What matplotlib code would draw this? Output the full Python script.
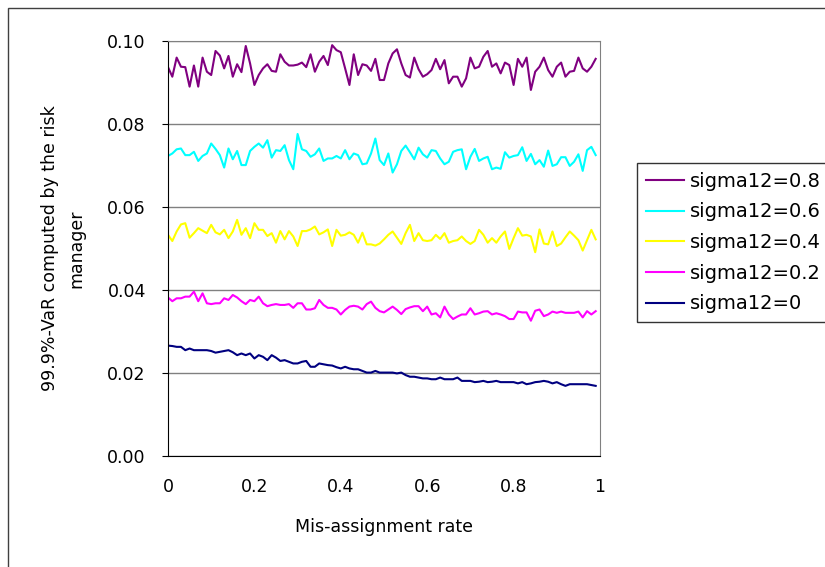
import matplotlib.pyplot as plt
import matplotlib.patches as patches
import numpy as np

rate = np.arange(100) / 100.0

var_08 = [0.0937, 0.0914, 0.0960, 0.0938, 0.0937, 0.0890, 0.0941, 0.0890, 0.0960, 0.0926,
          0.0918, 0.0976, 0.0965, 0.0934, 0.0964, 0.0914, 0.0944, 0.0925, 0.0988, 0.0946,
          0.0894, 0.0918, 0.0934, 0.0944, 0.0928, 0.0926, 0.0968, 0.0950, 0.0941, 0.0941,
          0.0943, 0.0948, 0.0937, 0.0968, 0.0926, 0.0950, 0.0964, 0.0942, 0.0990, 0.0978,
          0.0973, 0.0934, 0.0894, 0.0968, 0.0918, 0.0944, 0.0941, 0.0928, 0.0957, 0.0906,
          0.0906, 0.0946, 0.0970, 0.0980, 0.0946, 0.0918, 0.0912, 0.0960, 0.0932, 0.0914,
          0.0920, 0.0930, 0.0957, 0.0932, 0.0954, 0.0898, 0.0914, 0.0914, 0.0890, 0.0910,
          0.0960, 0.0934, 0.0938, 0.0962, 0.0976, 0.0938, 0.0946, 0.0922, 0.0948, 0.0942,
          0.0894, 0.0957, 0.0938, 0.0960, 0.0882, 0.0926, 0.0938, 0.0960, 0.0930, 0.0914,
          0.0938, 0.0948, 0.0914, 0.0926, 0.0928, 0.0960, 0.0934, 0.0926, 0.0938, 0.0957]

var_06 = [0.0723, 0.0729, 0.0739, 0.0741, 0.0725, 0.0725, 0.0733, 0.0711, 0.0723, 0.0729,
          0.0753, 0.0740, 0.0725, 0.0695, 0.0741, 0.0715, 0.0735, 0.0701, 0.0701, 0.0735,
          0.0745, 0.0753, 0.0743, 0.0761, 0.0719, 0.0737, 0.0735, 0.0749, 0.0713, 0.0691,
          0.0776, 0.0739, 0.0735, 0.0721, 0.0727, 0.0741, 0.0711, 0.0717, 0.0717, 0.0723,
          0.0717, 0.0737, 0.0715, 0.0729, 0.0725, 0.0703, 0.0705, 0.0729, 0.0765, 0.0713,
          0.0701, 0.0729, 0.0683, 0.0703, 0.0735, 0.0748, 0.0732, 0.0715, 0.0743, 0.0727,
          0.0719, 0.0737, 0.0735, 0.0717, 0.0703, 0.0709, 0.0733, 0.0737, 0.0739, 0.0691,
          0.0721, 0.0740, 0.0711, 0.0717, 0.0721, 0.0691, 0.0695, 0.0692, 0.0732, 0.0719,
          0.0723, 0.0725, 0.0744, 0.0711, 0.0728, 0.0703, 0.0713, 0.0697, 0.0736, 0.0699,
          0.0703, 0.0720, 0.0720, 0.0699, 0.0709, 0.0727, 0.0687, 0.0737, 0.0745, 0.0725]

var_04 = [0.0533, 0.0518, 0.0541, 0.0558, 0.0561, 0.0526, 0.0537, 0.0549, 0.0543, 0.0537,
          0.0557, 0.0539, 0.0534, 0.0545, 0.0525, 0.0541, 0.0569, 0.0533, 0.0549, 0.0525,
          0.0561, 0.0545, 0.0545, 0.0530, 0.0537, 0.0514, 0.0542, 0.0522, 0.0542, 0.0529,
          0.0506, 0.0542, 0.0542, 0.0546, 0.0553, 0.0534, 0.0539, 0.0546, 0.0506, 0.0545,
          0.0531, 0.0533, 0.0539, 0.0533, 0.0514, 0.0538, 0.0510, 0.0510, 0.0507, 0.0512,
          0.0522, 0.0533, 0.0541, 0.0526, 0.0511, 0.0537, 0.0557, 0.0518, 0.0537, 0.0520,
          0.0518, 0.0520, 0.0533, 0.0523, 0.0537, 0.0514, 0.0518, 0.0520, 0.0529, 0.0518,
          0.0511, 0.0518, 0.0545, 0.0533, 0.0514, 0.0525, 0.0514, 0.0529, 0.0541, 0.0499,
          0.0525, 0.0549, 0.0531, 0.0533, 0.0529, 0.0491, 0.0546, 0.0512, 0.0510, 0.0541,
          0.0506, 0.0512, 0.0527, 0.0541, 0.0531, 0.0520, 0.0495, 0.0520, 0.0545, 0.0522]

var_02 = [0.0382, 0.0373, 0.0380, 0.0380, 0.0384, 0.0384, 0.0396, 0.0373, 0.0392, 0.0368,
          0.0366, 0.0368, 0.0368, 0.0380, 0.0376, 0.0388, 0.0382, 0.0373, 0.0366, 0.0376,
          0.0373, 0.0384, 0.0368, 0.0361, 0.0364, 0.0366, 0.0364, 0.0364, 0.0366, 0.0357,
          0.0368, 0.0368, 0.0353, 0.0353, 0.0356, 0.0376, 0.0364, 0.0357, 0.0357, 0.0353,
          0.0341, 0.0352, 0.0360, 0.0362, 0.0360, 0.0353, 0.0366, 0.0372, 0.0357, 0.0349,
          0.0346, 0.0353, 0.0360, 0.0352, 0.0342, 0.0354, 0.0358, 0.0361, 0.0361, 0.0349,
          0.0360, 0.0341, 0.0344, 0.0334, 0.0360, 0.0341, 0.0330, 0.0336, 0.0341, 0.0341,
          0.0356, 0.0341, 0.0344, 0.0348, 0.0349, 0.0341, 0.0344, 0.0341, 0.0337, 0.0330,
          0.0330, 0.0348, 0.0346, 0.0346, 0.0326, 0.0350, 0.0353, 0.0337, 0.0341, 0.0348,
          0.0345, 0.0348, 0.0345, 0.0345, 0.0345, 0.0348, 0.0334, 0.0349, 0.0341, 0.0349]

var_00 = [0.0266, 0.0265, 0.0263, 0.0263, 0.0255, 0.0259, 0.0255, 0.0255, 0.0255, 0.0255,
          0.0253, 0.0249, 0.0251, 0.0253, 0.0255, 0.0250, 0.0243, 0.0247, 0.0243, 0.0247,
          0.0235, 0.0243, 0.0239, 0.0231, 0.0243, 0.0237, 0.0229, 0.0231, 0.0227, 0.0223,
          0.0223, 0.0227, 0.0229, 0.0215, 0.0215, 0.0223, 0.0221, 0.0219, 0.0218, 0.0214,
          0.0211, 0.0215, 0.0211, 0.0209, 0.0209, 0.0205, 0.0201, 0.0201, 0.0205, 0.0201,
          0.0201, 0.0201, 0.0201, 0.0199, 0.0201, 0.0195, 0.0191, 0.0191, 0.0189, 0.0187,
          0.0187, 0.0185, 0.0185, 0.0189, 0.0185, 0.0185, 0.0185, 0.0189, 0.0181, 0.0181,
          0.0181, 0.0178, 0.0179, 0.0181, 0.0178, 0.0179, 0.0181, 0.0178, 0.0178, 0.0178,
          0.0178, 0.0175, 0.0178, 0.0173, 0.0175, 0.0178, 0.0179, 0.0181, 0.0179, 0.0175,
          0.0178, 0.0173, 0.0169, 0.0173, 0.0173, 0.0173, 0.0173, 0.0173, 0.0171, 0.0169]

series = [('sigma12=0.8', var_08, '#800080'),
          ('sigma12=0.6', var_06, '#00FFFF'),
          ('sigma12=0.4', var_04, '#FFFF00'),
          ('sigma12=0.2', var_02, '#FF00FF'),
          ('sigma12=0', var_00, '#000080')]

fig = plt.figure(figsize=(8.25, 5.67), dpi=100)
ax = fig.add_axes([168 / 825, 1 - 456 / 567, 432 / 825, 415 / 567])

for label, vals, color in series:
    ax.plot(rate, vals, color=color, linewidth=1.5, label=label)

ax.set_xlim(0, 1)
ax.set_ylim(0, 0.10)
ax.set_yticks([0, 0.02, 0.04, 0.06, 0.08, 0.10])
ax.set_yticklabels(['0.00', '0.02', '0.04', '0.06', '0.08', '0.10'], fontsize=12.5)
ax.set_xticks([0, 0.2, 0.4, 0.6, 0.8, 1.0])
ax.set_xticklabels(['0', '0.2', '0.4', '0.6', '0.8', '1'], fontsize=12.5)
ax.tick_params(axis='y', length=4, pad=12)
ax.tick_params(axis='x', length=0, pad=16)
ax.yaxis.grid(True, color='#808080', linewidth=1)
ax.set_axisbelow(True)
for side in ['top', 'right']:
    ax.spines[side].set_color('#808080')
ax.spines['left'].set_color('black')
ax.spines['bottom'].set_color('black')

ax.set_xlabel('Mis-assignment rate', fontsize=12.5, labelpad=16)
ax.set_ylabel('99.9%-VaR computed by the risk\nmanager', fontsize=12.5, labelpad=16,
              linespacing=1.6)

leg = fig.legend(loc='upper left', bbox_to_anchor=(637 / 825, 1 - 163 / 567),
                 fontsize=14, frameon=True, fancybox=False, edgecolor='black',
                 handlelength=1.95, handletextpad=0.3, labelspacing=0.6,
                 borderpad=0.45, borderaxespad=0)
leg.get_frame().set_linewidth(1)

# outer chart border
fig.patches.append(patches.Rectangle((8 / 825, -0.1), 1.0, 1.1 - 8 / 567,
                                     transform=fig.transFigure, fill=False,
                                     edgecolor='#404040', linewidth=1))

fig.savefig('out.png', dpi=100)
